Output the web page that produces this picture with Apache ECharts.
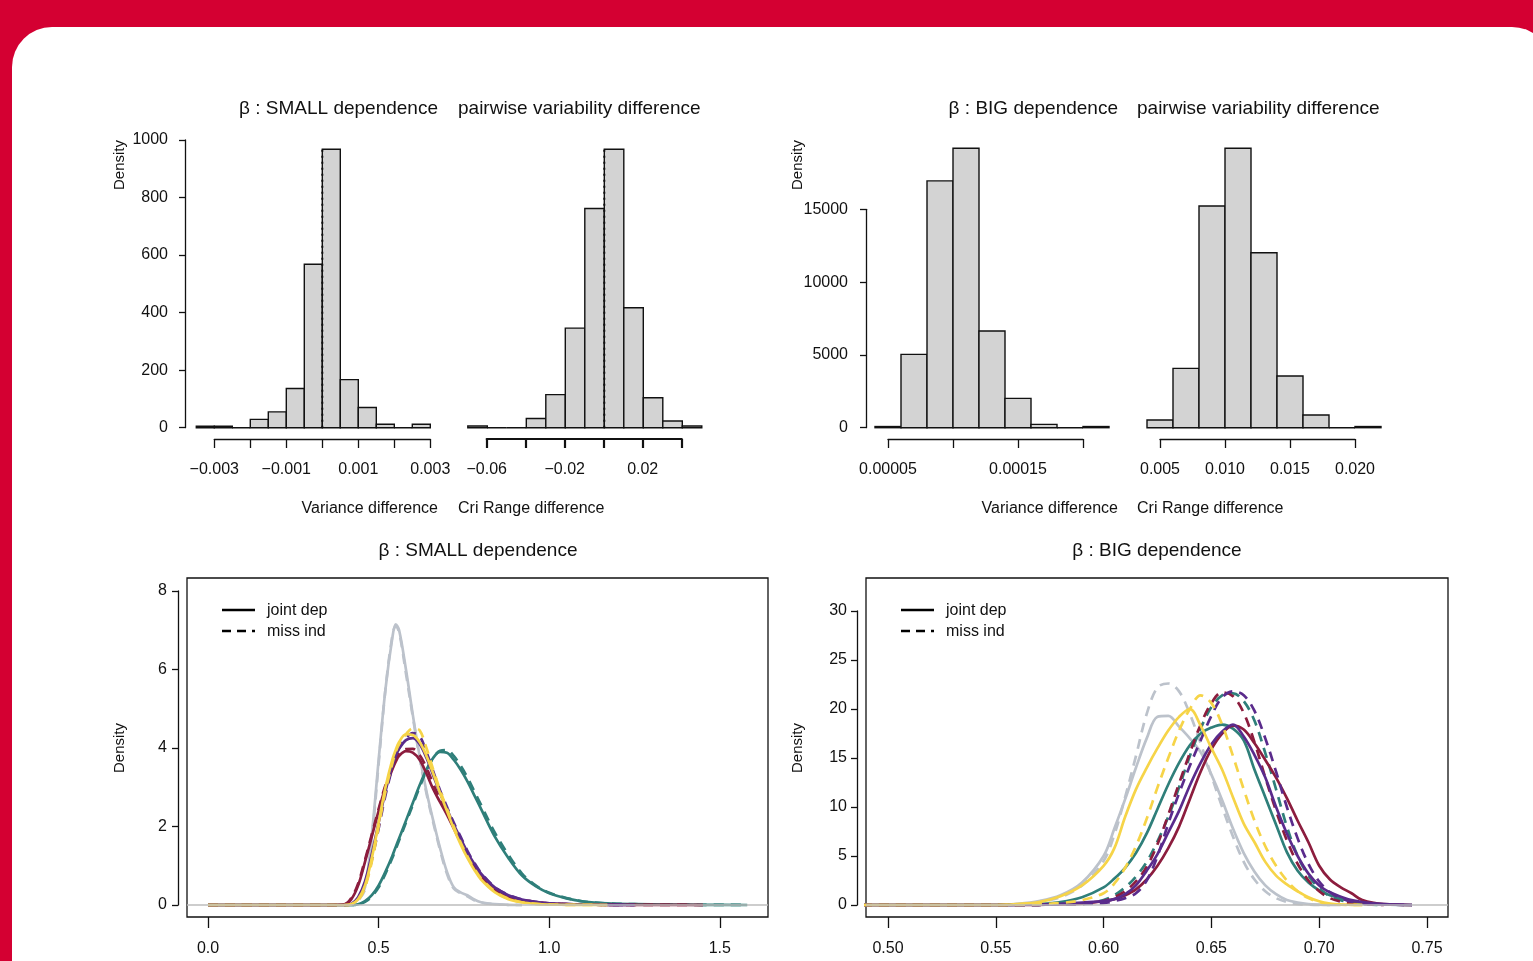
<!DOCTYPE html>
<html><head><meta charset="utf-8">
<script src="https://cdn.jsdelivr.net/npm/echarts@6/dist/echarts.min.js"></script>
<style>
html,body{margin:0;padding:0;background:#d40032;overflow:hidden;width:1533px;height:961px;}
#panel{position:absolute;left:12px;top:27px;width:1540px;height:1000px;background:#fff;border-top-left-radius:40px;border-top-right-radius:40px;}
#c{position:absolute;left:0;top:0;width:1533px;height:961px;}
</style>
</head><body><div id="panel"></div><div id="c"></div>
<script>
// ---------------- DATA ----------------
// Top-left histograms (SMALL dependence)
const smallVarBreaks = [-0.0035,-0.003,-0.0025,-0.002,-0.0015,-0.001,-0.0005,0,0.0005,0.001,0.0015,0.002,0.0025,0.003];
const smallVarDensity = [5,5,0,29,55,136,568,968,167,70,12,0,12];
const smallCriBreaks = [-0.07,-0.06,-0.05,-0.04,-0.03,-0.02,-0.01,0,0.01,0.02,0.03,0.04,0.05];
const smallCriDensity = [0.22,0,0,1.15,4.14,12.45,27.42,34.83,15.01,3.74,0.83,0.22];
// Top-right histograms (BIG dependence)
const bigVarBreaks = [0.00004,0.00006,0.00008,0.0001,0.00012,0.00014,0.00016,0.00018,0.0002,0.00022];
const bigVarDensity = [80,5039,16950,19194,6642,2016,229,0,80];
const bigCriBreaks = [0.004,0.006,0.008,0.010,0.012,0.014,0.016,0.018,0.020,0.022];
const bigCriDensity = [4.74,36.7,137.1,172.8,108.2,31.95,7.83,0,0.72];

// Tick labels
const smallVarTicks = ['\u22120.003','','\u22120.001','','0.001','','0.003'];
const smallCriTicks = ['\u22120.06','','\u22120.02','','0.02',''];
const bigVarTicks = ['0.00005','','0.00015',''];
const bigCriTicks = ['0.005','0.010','0.015','0.020'];
const smallHistYTicks = ['0','200','400','600','800','1000'];
const bigHistYTicks = ['0','5000','10000','15000'];
const smallDensXTicks = ['0.0','0.5','1.0','1.5'];
const smallDensYTicks = ['0','2','4','6','8'];
const bigDensXTicks = ['0.50','0.55','0.60','0.65','0.70','0.75'];
const bigDensYTicks = ['0','5','10','15','20','25','30'];

// Bottom-left density curves (SMALL dependence)
const smallX = [0,0.35,0.40,0.42,0.44,0.46,0.48,0.50,0.52,0.54,0.55,0.56,0.58,0.60,0.62,0.64,0.66,0.68,0.70,0.72,0.74,0.76,0.78,0.80,0.84,0.88,0.92,0.96,1.00,1.05,1.10,1.17,1.25,1.35,1.45,1.58];
const smallGraySolid   = [0,0,0,0.03,0.15,0.45,1.8,3.7,5.5,6.8,7.15,7.0,6.0,4.85,3.8,2.9,2.15,1.45,0.85,0.45,0.32,0.25,0.14,0.07,0.02,0.005,0,null,null,null,null,null,null,null,null,null];
const smallGrayDashed  = [0,0,0,0.02,0.12,0.4,1.7,3.6,5.5,6.85,7.1,6.95,5.9,4.8,3.75,2.85,2.1,1.4,0.8,0.42,0.3,0.22,0.12,0.06,0.02,0.005,0,null,null,null,null,null,null,null,null,null];
const smallTealSolid   = [0,0,0,0,0.02,0.1,0.25,0.5,0.85,1.25,1.48,1.7,2.15,2.6,3.05,3.45,3.75,3.9,3.88,3.7,3.45,3.15,2.8,2.45,1.75,1.2,0.75,0.48,0.3,0.17,0.09,0.04,0.02,0.01,0.005,0];
const smallTealDashed  = [0,0,0,0,0.02,0.08,0.22,0.45,0.8,1.2,1.42,1.65,2.1,2.55,3.0,3.42,3.75,3.93,3.95,3.8,3.55,3.25,2.9,2.55,1.85,1.28,0.8,0.5,0.31,0.18,0.09,0.04,0.02,0.01,0.005,0];
const smallRedSolid    = [0,0,0.02,0.15,0.5,1.1,1.75,2.4,3.0,3.45,3.65,3.8,3.92,3.88,3.7,3.35,2.95,2.62,2.3,1.95,1.6,1.25,0.95,0.72,0.38,0.2,0.12,0.07,0.04,0.02,0.01,0.005,0.003,0.002,0,null];
const smallRedDashed   = [0,0,0.02,0.18,0.55,1.15,1.8,2.45,3.05,3.5,3.7,3.85,3.97,3.98,3.82,3.5,3.08,2.7,2.35,1.98,1.62,1.27,0.97,0.74,0.4,0.22,0.13,0.08,0.045,0.02,0.01,0.005,0.003,0.002,0,null];
const smallPurpleSolid = [0,0,0,0.03,0.2,0.6,1.3,2.1,2.9,3.55,3.8,3.98,4.2,4.25,4.1,3.75,3.3,2.85,2.45,2.05,1.7,1.35,1.05,0.8,0.45,0.25,0.14,0.08,0.04,0.02,0.01,0.005,0,null,null,null];
const smallPurpleDashed= [0,0,0,0.02,0.15,0.5,1.15,1.95,2.8,3.5,3.8,4.0,4.25,4.38,4.3,3.9,3.4,2.92,2.5,2.1,1.74,1.38,1.08,0.82,0.46,0.26,0.14,0.08,0.04,0.02,0.01,0.005,0,null,null,null];
const smallYellowSolid = [0,0,0,0.02,0.15,0.5,1.2,2.1,3.0,3.7,3.95,4.15,4.35,4.33,4.15,3.8,3.35,2.85,2.4,1.95,1.55,1.2,0.9,0.65,0.33,0.15,0.07,0.03,0.01,0.005,0.002,0,null,null,null,null];
const smallYellowDashed= [0,0,0,0.02,0.12,0.45,1.1,2.0,2.9,3.6,3.9,4.1,4.35,4.5,4.45,4.0,3.45,2.92,2.45,2.0,1.6,1.24,0.93,0.68,0.35,0.16,0.07,0.03,0.01,0.005,0.002,0,null,null,null,null];

// Bottom-right density curves (BIG dependence)
const bigX = [0.48,0.55,0.56,0.57,0.58,0.59,0.60,0.605,0.61,0.615,0.62,0.625,0.63,0.635,0.64,0.645,0.65,0.655,0.66,0.665,0.67,0.675,0.68,0.685,0.69,0.695,0.70,0.705,0.71,0.715,0.72,0.73,0.743];
const bigGraySolid    = [0,0,0.12,0.4,1.0,2.3,5.0,7.8,10.8,14.0,17.0,19.2,19.3,18.2,17.0,15.6,13.3,10.7,7.8,5.3,3.4,2.0,1.1,0.5,0.25,0.1,0.04,0.01,0,null,null,null,null];
const bigGrayDashed   = [0,0,0.08,0.3,0.8,2.0,4.5,7.2,11.0,15.2,19.5,22.2,22.6,21.8,19.5,16.5,13.2,10.0,7.0,4.4,2.6,1.4,0.7,0.3,0.1,0.04,0.01,0,null,null,null,null,null];
const bigTealSolid    = [0,0,0.03,0.1,0.3,0.8,1.8,2.7,3.8,5.3,7.3,9.8,12.3,14.5,16.3,17.5,18.1,18.4,18.0,16.8,13.8,11.0,8.2,5.4,3.5,2.3,1.5,1.0,0.7,0.4,0.2,0.05,0];
const bigTealDashed   = [0,0,0,0.02,0.05,0.1,0.5,1.0,1.8,2.9,4.4,6.5,9.0,12.0,15.2,18.0,20.2,21.4,21.6,20.8,18.8,15.5,11.8,8.0,5.0,3.0,1.7,0.9,0.5,0.25,0.1,0,null];
const bigRedSolid     = [0,0,0,0.02,0.05,0.15,0.4,0.6,1.0,1.6,2.6,4.0,5.8,8.0,10.8,13.6,15.9,17.5,18.3,17.9,16.5,14.8,13.0,10.9,8.6,6.4,4.0,2.6,1.8,1.2,0.5,0.08,0];
const bigRedDashed    = [0,0,0,0.02,0.05,0.1,0.4,0.8,1.4,2.4,3.9,6.2,9.2,12.4,15.5,18.4,20.6,21.7,21.3,19.6,16.6,13.0,9.6,6.6,4.2,2.5,1.4,0.7,0.35,0.15,0.1,0,null];
const bigPurpleSolid  = [0,0,0.02,0.05,0.12,0.25,0.4,0.6,1.1,2.0,3.5,5.2,7.4,9.6,12.2,14.5,16.4,17.7,18.4,17.2,15.3,13.0,10.0,7.3,5.0,3.2,2.0,1.3,0.85,0.5,0.3,0.1,0];
const bigPurpleDashed = [0,0,0,0.02,0.05,0.1,0.2,0.4,0.7,1.2,2.5,5.0,8.3,11.4,14.2,16.8,19.3,21.2,21.8,21.4,19.8,17.0,13.6,10.0,6.8,4.2,2.4,1.3,0.7,0.35,0.15,0.05,0];
const bigYellowSolid  = [0,0,0.1,0.3,0.9,2.0,4.0,5.8,9.0,11.8,14.0,16.0,17.8,19.2,20.0,18.3,16.0,13.8,11.0,8.3,6.4,4.4,3.0,2.1,1.4,0.8,0.38,0.15,0.05,0.02,0,null,null];
const bigYellowDashed = [0,0,0.02,0.08,0.2,0.5,1.2,2.2,3.8,6.0,8.8,12.0,15.0,17.8,20.0,21.4,20.6,18.4,15.2,11.8,8.6,6.0,4.0,2.5,1.4,0.7,0.3,0.1,0.03,0.01,0,null,null];

// ---------------- STYLE ----------------
const FONT = '"Liberation Sans", Arial, Helvetica, sans-serif';
const INK = '#111';
const C = {gray:'#bcc2cb', teal:'#2f7f7a', red:'#8c1d3e', purple:'#5a2b8c', yellow:'#f6d448'};

const chart = echarts.init(document.getElementById('c'), null, {renderer:'canvas'});

const grids = [], xAxes = [], yAxes = [], series = [];
function addGrid(left, top, width, height, extra){
  grids.push(Object.assign({left, top, width, height, containLabel:false, outerBoundsMode:'none', show:false}, extra||{}));
  return grids.length - 1;
}
const hidden = (g) => ({type:'value', gridIndex:g, show:false, min:0, max:1});
function visAxis(g, min, max, interval, labels, opt){
  opt = opt || {};
  return {type:'value', gridIndex:g, min, max, interval, position: opt.position,
    axisLine:{show: opt.line !== false, onZero:false, lineStyle:{color:INK, width: opt.lw || 1.3}},
    axisTick:{show:true, inside:false, length: opt.tick || 8, lineStyle:{color:INK, width: opt.lw || 1.3}},
    splitLine:{show:false},
    axisLabel:{show:true, margin: opt.margin || 12, color:INK, fontFamily:FONT, fontSize:16,
      formatter:(v, i) => labels[i] !== undefined ? labels[i] : ''}};
}
function histSeries(g, breaks, dens){
  const data = dens.map((d, i) => [breaks[i], breaks[i+1], d]);
  return {type:'custom', xAxisIndex:g, yAxisIndex:g, data, encode:{x:[0,1], y:2}, silent:true, clip:false,
    renderItem(params, api){
      const a = api.coord([api.value(0), api.value(2)]);
      const b = api.coord([api.value(1), 0]);
      return {type:'rect', shape:{x:a[0], y:a[1], width:b[0]-a[0], height:b[1]-a[1]},
        style:{fill:'#d3d3d3', stroke:INK, lineWidth:1.4}};
    }};
}
function refLine(g, top){
  return {type:'line', xAxisIndex:g, yAxisIndex:g, data:[[0,0],[0,top]], symbol:'none', silent:true, z:5,
    lineStyle:{color:INK, width:2, type:[2,4]}};
}
function curve(g, xs, ys, color, dashed, extra){
  const data = [];
  xs.forEach((x, i) => { if (ys[i] !== null) data.push([x, ys[i]]); });
  return Object.assign({type:'line', xAxisIndex:g, yAxisIndex:g, data, symbol:'none', showSymbol:false,
    smooth:0.35, silent:true,
    lineStyle:{color, width:2.7, type: dashed ? [10,7] : 'solid', cap:'butt', join:'round'}}, extra||{});
}

// ---- Top-left: variance difference (SMALL)
let g = addGrid(185, 140, 255, 287.7);
xAxes.push({type:'value', gridIndex:g, show:false, min:-0.0038139, max:0.0032694});
yAxes.push({type:'value', gridIndex:g, show:false, min:0, max:1000});
series.push(histSeries(g, smallVarBreaks, smallVarDensity));
series.push(refLine(g, Math.max(...smallVarDensity)));
g = addGrid(185, 140, 10, 287.7);
xAxes.push(hidden(g));
yAxes.push(visAxis(g, 0, 1000, 200, smallHistYTicks, {position:'left', margin:17, tick:6}));
g = addGrid(214.3, 400, 216, 39);
xAxes.push(visAxis(g, -0.003, 0.003, 0.001, smallVarTicks, {position:'bottom', margin:23, tick:9}));
yAxes.push(hidden(g));
// ---- Top-left: CrI range difference (SMALL)
g = addGrid(458, 140, 250, 287.7);
xAxes.push({type:'value', gridIndex:g, show:false, min:-0.07503, max:0.05318});
yAxes.push({type:'value', gridIndex:g, show:false, min:0, max:Math.max(...smallCriDensity)*1000/968});
series.push(histSeries(g, smallCriBreaks, smallCriDensity));
series.push(refLine(g, Math.max(...smallCriDensity)));
g = addGrid(486.7, 400, 195, 39);
xAxes.push(visAxis(g, -0.06, 0.04, 0.02, smallCriTicks, {position:'bottom', margin:23, tick:9, lw:2.2}));
yAxes.push(hidden(g));

// ---- Top-right: variance difference (BIG)
g = addGrid(866, 136.5, 250, 291.2);
xAxes.push({type:'value', gridIndex:g, show:false, min:0.000033077, max:0.000225385});
yAxes.push({type:'value', gridIndex:g, show:false, min:0, max:20000});
series.push(histSeries(g, bigVarBreaks, bigVarDensity));
g = addGrid(866, 209.3, 10, 218.4);
xAxes.push(hidden(g));
yAxes.push(visAxis(g, 0, 15000, 5000, bigHistYTicks, {position:'left', margin:18, tick:6}));
g = addGrid(888, 400, 195, 39);
xAxes.push(visAxis(g, 0.00005, 0.0002, 0.00005, bigVarTicks, {position:'bottom', margin:23, tick:9}));
yAxes.push(hidden(g));
// ---- Top-right: CrI range difference (BIG)
g = addGrid(1140, 136.5, 250, 291.2);
xAxes.push({type:'value', gridIndex:g, show:false, min:0.0034615, max:0.0226923});
yAxes.push({type:'value', gridIndex:g, show:false, min:0, max:Math.max(...bigCriDensity)*20000/19194});
series.push(histSeries(g, bigCriBreaks, bigCriDensity));
g = addGrid(1160, 400, 195, 39);
xAxes.push(visAxis(g, 0.005, 0.020, 0.005, bigCriTicks, {position:'bottom', margin:23, tick:9}));
yAxes.push(hidden(g));

// ---- Bottom-left: densities (SMALL)
const zeroMark = {silent:true, symbol:['none','none'], label:{show:false}, data:[{yAxis:0}],
  lineStyle:{color:'#bdbdbd', type:'solid', width:1.5}};
g = addGrid(187, 578, 581, 339, {show:true, borderColor:INK, borderWidth:1.3, backgroundColor:'transparent'});
xAxes.push({type:'value', gridIndex:g, show:false, min:-0.06153, max:1.64079});
yAxes.push({type:'value', gridIndex:g, show:false, min:-0.3057, max:8.331});
[
  [smallGraySolid, C.gray, false], [smallGrayDashed, C.gray, true],
  [smallTealSolid, C.teal, false], [smallTealDashed, C.teal, true],
  [smallRedSolid, C.red, false], [smallRedDashed, C.red, true],
  [smallPurpleSolid, C.purple, false], [smallPurpleDashed, C.purple, true],
  [smallYellowSolid, C.yellow, false], [smallYellowDashed, C.yellow, true]
].forEach((s, i) => series.push(curve(g, smallX, s[0], s[1], s[2], i === 0 ? {markLine: zeroMark} : {})));
g = addGrid(208, 578, 511.8, 339);
xAxes.push(visAxis(g, 0, 1.5, 0.5, smallDensXTicks, {position:'bottom', margin:24, tick:11, line:false}));
yAxes.push(hidden(g));
g = addGrid(178, 591, 10, 314);
xAxes.push(hidden(g));
yAxes.push(visAxis(g, 0, 8, 2, smallDensYTicks, {position:'left', margin:11, tick:6}));

// ---- Bottom-right: densities (BIG)
g = addGrid(866, 578, 582, 339, {show:true, borderColor:INK, borderWidth:1.3, backgroundColor:'transparent'});
xAxes.push({type:'value', gridIndex:g, show:false, min:0.4898, max:0.75974});
yAxes.push({type:'value', gridIndex:g, show:false, min:-1.2245, max:33.367});
[
  [bigGraySolid, C.gray, false], [bigGrayDashed, C.gray, true],
  [bigTealSolid, C.teal, false], [bigTealDashed, C.teal, true],
  [bigRedSolid, C.red, false], [bigRedDashed, C.red, true],
  [bigPurpleSolid, C.purple, false], [bigPurpleDashed, C.purple, true],
  [bigYellowSolid, C.yellow, false], [bigYellowDashed, C.yellow, true]
].forEach((s, i) => series.push(curve(g, bigX, s[0], s[1], s[2], i === 0 ? {markLine: zeroMark} : {})));
g = addGrid(888, 578, 539, 339);
xAxes.push(visAxis(g, 0.5, 0.75, 0.05, bigDensXTicks, {position:'bottom', margin:24, tick:11, line:false}));
yAxes.push(hidden(g));
g = addGrid(857, 611, 10, 294);
xAxes.push(hidden(g));
yAxes.push(visAxis(g, 0, 30, 5, bigDensYTicks, {position:'left', margin:10, tick:6}));

// ---------------- TEXT & LEGENDS ----------------
function txt(text, x, y, size, align, rot){
  return {type:'text', x, y, rotation: rot || 0, silent:true, z:100,
    style:{text, fill:INK, font: size + 'px ' + FONT, align: align || 'center', verticalAlign:'middle',
      textAlign: align || 'center', textVerticalAlign:'middle'}};
}
function legendLine(x1, y, dashed){
  return {type:'line', silent:true, z:100, shape:{x1, y1:y, x2:x1+33, y2:y},
    style:{stroke:'#000', lineWidth:2.6, lineDash: dashed ? [9,6] : null}};
}
const graphics = [
  txt('\u03b2 : SMALL dependence', 438, 109, 19, 'right'),
  txt('pairwise variability difference', 458, 109, 19, 'left'),
  txt('\u03b2 : BIG dependence', 1118, 109, 19, 'right'),
  txt('pairwise variability difference', 1137, 109, 19, 'left'),
  txt('Variance difference', 438, 509, 16, 'right'),
  txt('Cri Range difference', 458, 509, 16, 'left'),
  txt('Variance difference', 1118, 509, 16, 'right'),
  txt('Cri Range difference', 1137, 509, 16, 'left'),
  txt('Density', 120, 165, 15, 'center', Math.PI/2),
  txt('Density', 798, 165, 15, 'center', Math.PI/2),
  txt('Density', 120, 748, 15, 'center', Math.PI/2),
  txt('Density', 798, 748, 15, 'center', Math.PI/2),
  txt('\u03b2 : SMALL dependence', 478, 551, 19, 'center'),
  txt('\u03b2 : BIG dependence', 1157, 551, 19, 'center'),
  legendLine(222, 610, false), legendLine(222, 631, true),
  txt('joint dep', 267, 611, 16, 'left'), txt('miss ind', 267, 632, 16, 'left'),
  legendLine(901, 610, false), legendLine(901, 631, true),
  txt('joint dep', 946, 611, 16, 'left'), txt('miss ind', 946, 632, 16, 'left')
];

chart.setOption({
  animation:false,
  backgroundColor:'transparent',
  grid: grids, xAxis: xAxes, yAxis: yAxes, series,
  graphic:{elements: graphics}
});
</script>
</body></html>
